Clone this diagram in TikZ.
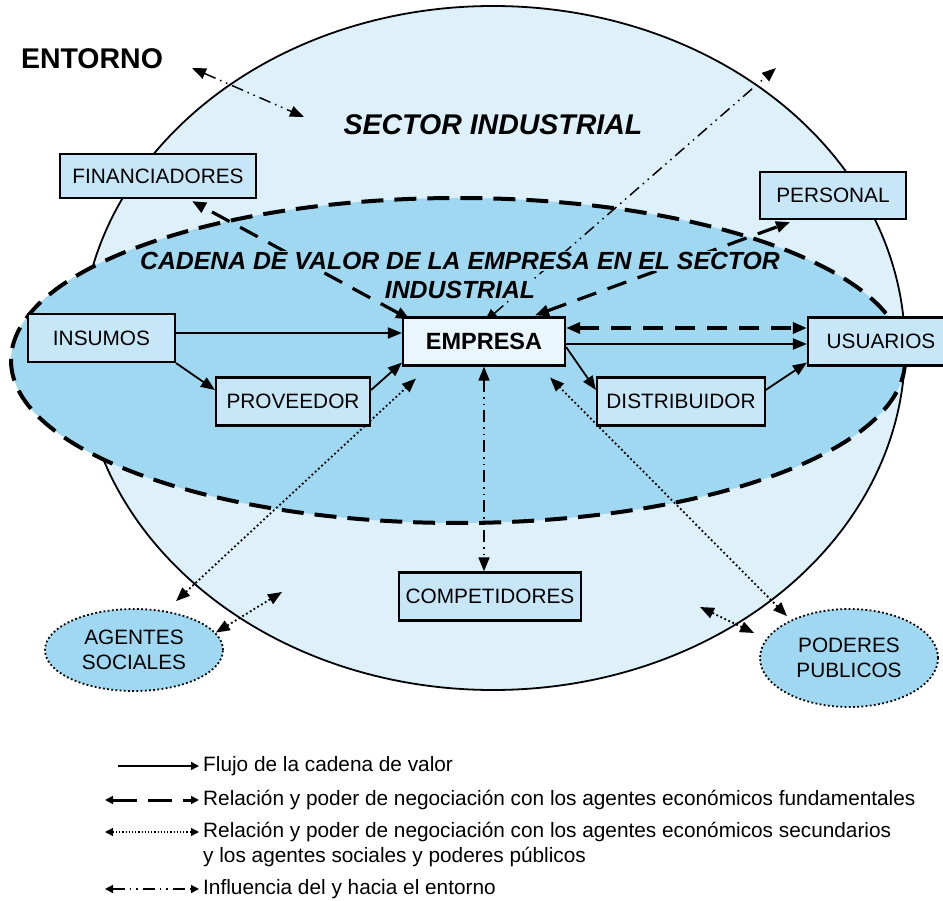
\documentclass[tikz,border=0pt]{standalone}
\usepackage{fontspec}
\setmainfont{Liberation Sans}
\usetikzlibrary{arrows.meta,calc,shapes.geometric}

\definecolor{sectorblue}{RGB}{222,241,251}
\definecolor{chainblue}{RGB}{160,216,242}
\definecolor{boxblue}{RGB}{199,231,248}
\definecolor{firmblue}{RGB}{234,246,253}

\pgfdeclarelayer{background}
\pgfsetlayers{background,main}

\tikzset{
  >={Triangle[length=14pt,width=11pt]},
  agent/.style={draw,line width=2.2pt,fill=boxblue,minimum height=48pt,inner sep=0pt,
    font=\fontsize{20.8}{25}\selectfont},
  social/.style={ellipse,draw,line width=1.8pt,dash pattern=on 1.8pt off 2.4pt,fill=chainblue,
    align=center,inner sep=0pt,font=\fontsize{20.8}{24.5}\selectfont},
  flow/.style={line width=1.8pt,->},
  fundamental/.style={line width=3.2pt,dash pattern=on 20pt off 12pt,<->},
  secondary/.style={line width=1.8pt,dash pattern=on 1.8pt off 2.6pt,<->},
  influence/.style={line width=1.5pt,dash pattern=on 12pt off 5pt on 1.5pt off 5pt on 1.5pt off 5pt},
  chaintitle/.style={fill=chainblue,inner sep=1pt,font=\fontsize{24.8}{29}\bfseries\itshape},
  legendtext/.style={anchor=west,inner sep=0pt,font=\fontsize{20.8}{25}\selectfont}
}

\begin{document}
\begin{tikzpicture}[x=1pt,y=-1pt]
\useasboundingbox (0,0) rectangle (943,901);

% agents of the value chain
\node[agent,minimum width=196pt,minimum height=44pt] (fin) at (158,176) {FINANCIADORES};
\node[agent,minimum width=146pt,minimum height=47pt] (pers) at (833,195.5) {PERSONAL};
\node[agent,minimum width=147pt] (ins) at (101.5,338) {INSUMOS};
\node[agent,minimum width=154pt] (prov) at (293,401.5) {PROVEEDOR};
\node[agent,minimum width=162pt,fill=firmblue,font=\fontsize{23.5}{28}\bfseries] (firm) at (484,341.5) {EMPRESA};
\node[agent,minimum width=168pt] (dist) at (681,401.5) {DISTRIBUIDOR};
\node[agent,minimum width=146pt] (usr) at (881,341.5) {USUARIOS};
\node[agent,minimum width=182pt] (comp) at (490,596.5) {COMPETIDORES};
\node[social,minimum width=178pt,minimum height=82pt] (soc) at (134,650) {AGENTES\\SOCIALES};
\node[social,minimum width=178pt,minimum height=98pt] (pub) at (849,658) {PODERES\\PUBLICOS};

\node[font=\fontsize{28.5}{34}\bfseries] (env) at (92,58.5) {ENTORNO};

\coordinate (envA) at (192,68);
\coordinate (envB) at (304,117);
\coordinate (envC) at (776,68);
\coordinate (socin) at (282,592);
\coordinate (pubin) at (700,607);

\begin{pgfonlayer}{background}
\draw[line width=1.8pt,fill=sectorblue] (493,348) ellipse [x radius=412,y radius=342];
\fill[chainblue] (458,360.5) ellipse [x radius=447,y radius=162.5];

% flow of the chain
\draw[flow] ($(ins.east)+(0,-5)$) -- ($(firm.west)+(0,-8.5)$);
\draw[flow] (ins.south east) -- ($(prov.west)+(0,-11.5)$);
\draw[flow] ($(prov.east)+(0,-11.5)$) -- ($(firm.south west)+(0,-4)$);
\draw[flow] ($(firm.east)+(0,5.5)$) -- ($(dist.west)+(0,-11.5)$);
\draw[flow] ($(dist.east)+(-5,-8.5)$) -- ($(usr.south west)+(0,-4)$);
\draw[flow] ($(firm.east)+(0,2.5)$) -- ($(usr.west)+(0,2.5)$);

% fundamental agents
\draw[fundamental] ($(firm.east)+(0,-13.5)$) -- ($(usr.west)+(0,-13.5)$);
\draw[fundamental] ($(firm.north west)+(8,3)$) -- ($(fin.south)+(34,2)$);
\draw[fundamental] ($(firm.north)+(51,-1)$) -- ($(pers.south)+(-43,2)$);

% secondary agents
\draw[secondary] ($(soc.north)+(42,-7)$) -- ($(firm.south west)+(14,12)$);
\draw[secondary] (soc.12) -- (socin);
\draw[secondary] ($(pub.north)+(-62,8)$) -- ($(firm.south east)+(-16,11)$);
\draw[secondary] ($(pub.west)+(-5,-25)$) -- (pubin);

% environment
\draw[influence,<->] ($(firm.north)+(0,6)$) -- (envC);
\draw[influence,<->] (firm.south) -- (firm.south |- comp.north);

\node[chaintitle] (chain1) at (460,261) {CADENA DE VALOR DE LA EMPRESA EN EL SECTOR};
\node[chaintitle] (chain2) at (460,290) {INDUSTRIAL};
\draw[line width=4pt,dash pattern=on 22pt off 11pt] (458,360.5) ellipse [x radius=447,y radius=162.5];
\end{pgfonlayer}

\draw[influence,<->] (envA) -- (envB);
\node[font=\fontsize{28.5}{34}\bfseries\itshape] (sector) at (493,125) {SECTOR INDUSTRIAL};

% legend
\begin{scope}[>={Triangle[length=8pt,width=8pt]}]
\node[legendtext] (t1) at (203,766) {Flujo de la cadena de valor};
\node[legendtext] (t2) at (203,800) {Relación y poder de negociación con los agentes económicos fundamentales};
\node[legendtext] (t3) at (203,832) {Relación y poder de negociación con los agentes económicos secundarios};
\node[legendtext] (t3b) at (203,857) {y los agentes sociales y poderes públicos};
\node[legendtext] (t4) at (203,889) {Influencia del y hacia el entorno};
\coordinate (k1) at (118,766);
\coordinate (k2) at (105,800);
\coordinate (k3) at (105,832);
\coordinate (k4) at (105,889);
\draw[line width=1.5pt,->] (k1) -- ($(t1.west)+(-4,0)$);
\draw[line width=3pt,dash pattern=on 24pt off 11pt,<->] (k2) -- ($(t2.west)+(-4,0)$);
\draw[line width=1.2pt,dash pattern=on 1.2pt off 2pt,<->] (k3) -- ($(t3.west)+(-4,0)$);
\draw[influence,<->] (k4) -- ($(t4.west)+(-4,0)$);
\end{scope}
\end{tikzpicture}
\end{document}
